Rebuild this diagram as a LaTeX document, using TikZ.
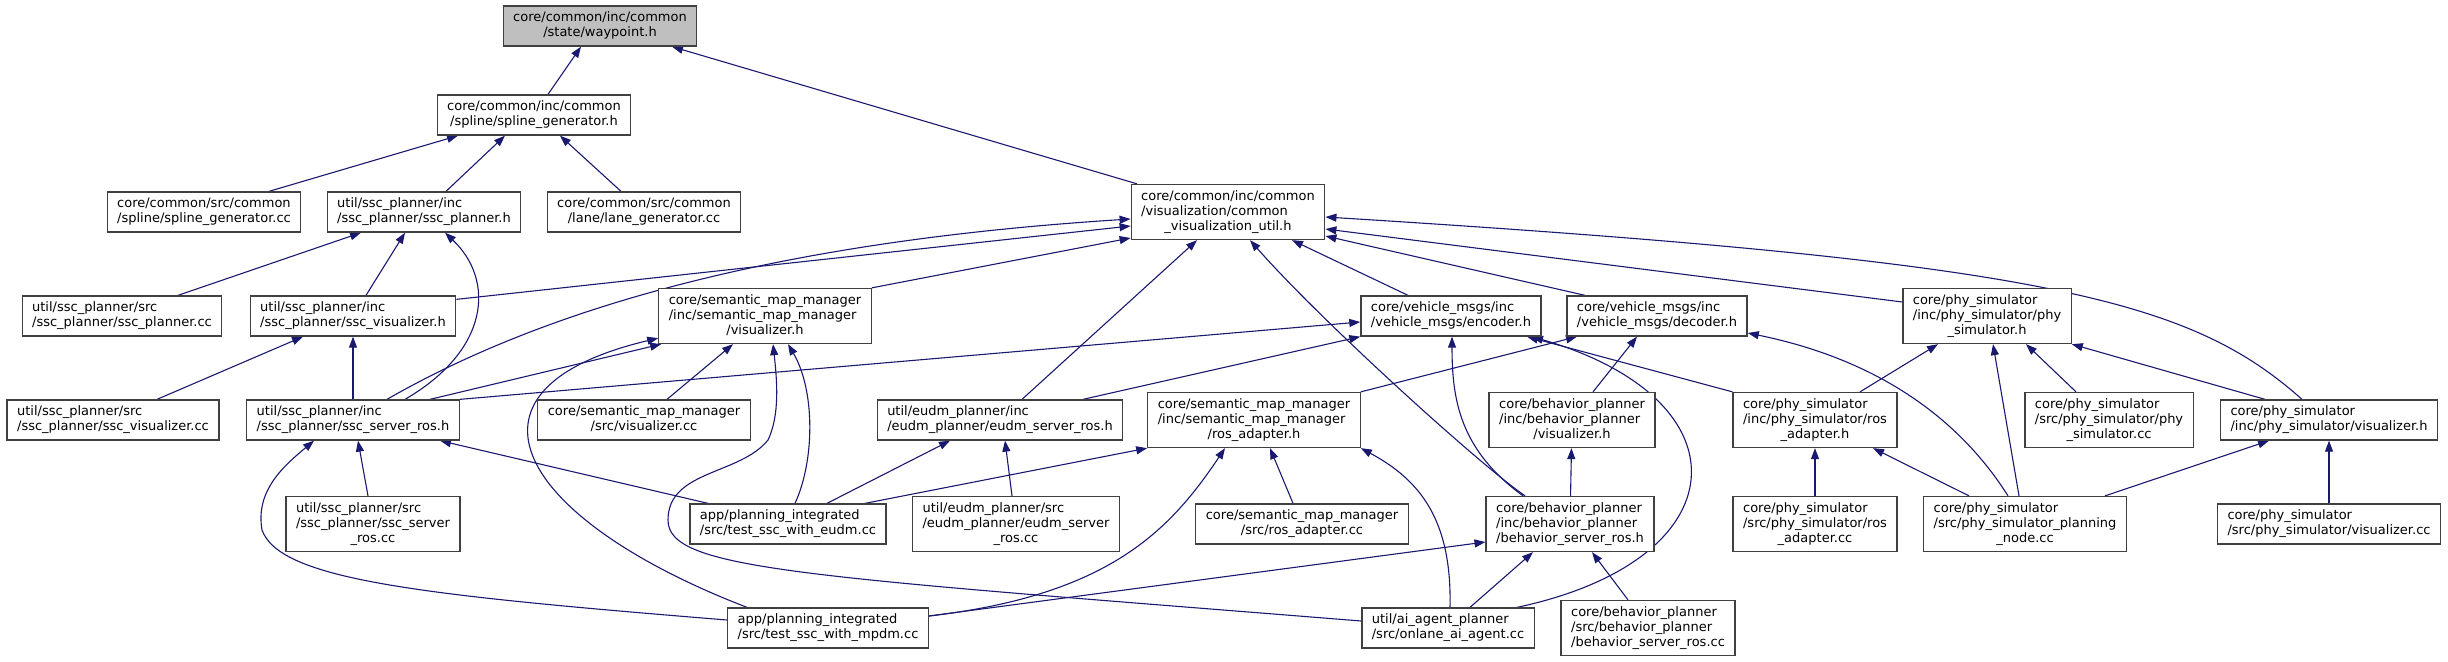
\documentclass[tikz,border=0pt]{standalone}
\usepackage{fontspec}
\setmainfont{DejaVu Sans}
\usepackage{xcolor}
\usepackage{tikz}
\usetikzlibrary{arrows.meta, backgrounds}
\definecolor{DoxyBlue}{RGB}{25, 25, 112}
\definecolor{DoxyGray}{HTML}{404040}
\definecolor{DoxyLightGray}{HTML}{BFBFBF}
% file label: all lines left, last line centred
\newcommand{\flab}[2]{\begin{tabular}{@{}l@{}}#1\\\multicolumn{1}{@{}c@{}}{#2}\end{tabular}}

\begin{document}
\begin{tikzpicture}[
    x=1pt, y=-1pt,
    font=\fontsize{13}{15}\selectfont,
    >={Triangle[length=11pt, width=8pt]},
    filebox/.style = {
        rectangle, draw=DoxyGray, line width=1.3pt, fill=white,
        inner xsep=10pt, inner ysep=5pt, minimum height=40pt
    },
    rootbox/.style = {filebox, fill=DoxyLightGray},
    arrow/.style = {->, line width=1.1pt, color=DoxyBlue}
]
\useasboundingbox (0,0) rectangle (2448,661);

% ===== ROW 0 / 1 =====
\node[rootbox] (waypoint) at (600,26) {\flab{core/common/inc/common}{/state/waypoint.h}};
\node[filebox] (splineh) at (534,115) {\flab{core/common/inc/common}{/spline/spline\_generator.h}};

% ===== ROW 2 =====
\node[filebox] (splinecc) at (204,212) {\flab{core/common/src/common}{/spline/spline\_generator.cc}};
\node[filebox] (sscplannerh) at (424,212) {\flab{util/ssc\_planner/inc}{/ssc\_planner/ssc\_planner.h}};
\node[filebox] (lanecc) at (644,212) {\flab{core/common/src/common}{/lane/lane\_generator.cc}};
\node[filebox] (commonvis) at (1228,212) {\flab{core/common/inc/common\\/visualization/common}{\_visualization\_util.h}};

% ===== ROW 3 =====
\node[filebox] (sscplannercc) at (122,316) {\flab{util/ssc\_planner/src}{/ssc\_planner/ssc\_planner.cc}};
\node[filebox] (sscvish) at (353,316) {\flab{util/ssc\_planner/inc}{/ssc\_planner/ssc\_visualizer.h}};
\node[filebox] (smmvish) at (765,316) {\flab{core/semantic\_map\_manager\\/inc/semantic\_map\_manager}{/visualizer.h}};
\node[filebox] (encoderh) at (1451,316) {\flab{core/vehicle\_msgs/inc}{/vehicle\_msgs/encoder.h}};
\node[filebox] (decoderh) at (1657,316) {\flab{core/vehicle\_msgs/inc}{/vehicle\_msgs/decoder.h}};
\node[filebox] (physimh) at (1987,316) {\flab{core/phy\_simulator\\/inc/phy\_simulator/phy}{\_simulator.h}};

% ===== ROW 4 =====
\node[filebox] (sscviscc) at (113,420) {\flab{util/ssc\_planner/src}{/ssc\_planner/ssc\_visualizer.cc}};
\node[filebox] (sscserverh) at (353,420) {\flab{util/ssc\_planner/inc}{/ssc\_planner/ssc\_server\_ros.h}};
\node[filebox] (smmviscc) at (644,420) {\flab{core/semantic\_map\_manager}{/src/visualizer.cc}};
\node[filebox] (eudmserverh) at (1000,420) {\flab{util/eudm\_planner/inc}{/eudm\_planner/eudm\_server\_ros.h}};
\node[filebox] (smmrosh) at (1254,420) {\flab{core/semantic\_map\_manager\\/inc/semantic\_map\_manager}{/ros\_adapter.h}};
\node[filebox] (bpvish) at (1572,420) {\flab{core/behavior\_planner\\/inc/behavior\_planner}{/visualizer.h}};
\node[filebox] (phyrosh) at (1815,420) {\flab{core/phy\_simulator\\/inc/phy\_simulator/ros}{\_adapter.h}};
\node[filebox] (physimcc) at (2109,420) {\flab{core/phy\_simulator\\/src/phy\_simulator/phy}{\_simulator.cc}};
\node[filebox] (phyvish) at (2329,420) {\flab{core/phy\_simulator}{/inc/phy\_simulator/visualizer.h}};

% ===== ROW 5 =====
\node[filebox] (sscservercc) at (373,524) {\flab{util/ssc\_planner/src\\/ssc\_planner/ssc\_server}{\_ros.cc}};
\node[filebox] (testeudm) at (788,524) {\flab{app/planning\_integrated}{/src/test\_ssc\_with\_eudm.cc}};
\node[filebox] (eudmservercc) at (1016,524) {\flab{util/eudm\_planner/src\\/eudm\_planner/eudm\_server}{\_ros.cc}};
\node[filebox] (smmroscc) at (1302,524) {\flab{core/semantic\_map\_manager}{/src/ros\_adapter.cc}};
\node[filebox] (bpserverh) at (1570,524) {\flab{core/behavior\_planner\\/inc/behavior\_planner}{/behavior\_server\_ros.h}};
\node[filebox] (phyroscc) at (1815,524) {\flab{core/phy\_simulator\\/src/phy\_simulator/ros}{\_adapter.cc}};
\node[filebox] (planningcc) at (2025,524) {\flab{core/phy\_simulator\\/src/phy\_simulator\_planning}{\_node.cc}};
\node[filebox] (phyviscc) at (2329,524) {\flab{core/phy\_simulator}{/src/phy\_simulator/visualizer.cc}};

% ===== ROW 6 =====
\node[filebox] (testmpdm) at (828,628) {\flab{app/planning\_integrated}{/src/test\_ssc\_with\_mpdm.cc}};
\node[filebox] (onlanecc) at (1448,628) {\flab{util/ai\_agent\_planner}{/src/onlane\_ai\_agent.cc}};
\node[filebox] (bpservercc) at (1648,628) {\flab{core/behavior\_planner\\/src/behavior\_planner}{/behavior\_server\_ros.cc}};

% ===== ARROWS =====
\begin{scope}[on background layer]
\draw[arrow] ([xshift=14pt]splineh.north) -- ([xshift=-19pt]waypoint.south);
\draw[arrow] ([xshift=-91pt]commonvis.north) -- ([xshift=72pt]waypoint.south);
\draw[arrow] ([xshift=65pt]splinecc.north) -- ([xshift=-76pt]splineh.south);
\draw[arrow] ([xshift=22pt]sscplannerh.north) -- ([xshift=-29pt]splineh.south);
\draw[arrow] ([xshift=-23pt]lanecc.north) -- ([xshift=26pt]splineh.south);
\draw[arrow] ([xshift=56pt]sscplannercc.north) -- ([xshift=-63pt]sscplannerh.south);
\draw[arrow] ([xshift=13pt]sscvish.north) -- ([xshift=-19pt]sscplannerh.south);
\draw[arrow] ([xshift=52pt]sscserverh.north) .. controls (490,350) and (495,280) .. ([xshift=21pt]sscplannerh.south);
\draw[arrow] ([xshift=44pt]sscviscc.north) -- ([xshift=-50pt]sscvish.south);
\draw[arrow] (sscserverh) -- (sscvish);
\draw[arrow] ([xshift=-5pt]sscservercc.north) -- ([xshift=5pt]sscserverh.south);

% into common_visualization_util.h
\draw[arrow] ([yshift=-4pt]sscvish.north east) -- ([yshift=-14pt]commonvis.west);
\draw[arrow] ([xshift=34pt]sscserverh.north) .. controls (560,300) and (800,240) .. ([yshift=-7pt]commonvis.west);
\draw[arrow] (smmvish.north east) -- ([yshift=-26pt]commonvis.west);
\draw[arrow] ([xshift=22pt]eudmserverh.north) -- ([xshift=-31pt]commonvis.south);
\draw[arrow] ([xshift=-45pt]bpserverh.north) .. controls (1480,465) and (1320,320) .. ([xshift=22pt]commonvis.south);
\draw[arrow] ([xshift=-43pt]encoderh.north) -- ([xshift=64pt]commonvis.south);
\draw[arrow] ([xshift=-72pt]decoderh.north) -- ([yshift=-24pt]commonvis.east);
\draw[arrow] ([yshift=14pt]physimh.west) -- ([yshift=-17pt]commonvis.east);
\draw[arrow] ([xshift=-27pt]phyvish.north) .. controls (2190,300) and (2050,262) .. ([yshift=-5pt]commonvis.east);

% into semantic_map_manager visualizer.h
\draw[arrow] ([xshift=77pt]sscserverh.north) -- ([xshift=3pt]smmvish.south west);
\draw[arrow] ([xshift=-81pt]testmpdm.north) .. controls (520,520) and (440,390) .. ([yshift=6pt]smmvish.south west);
\draw[arrow] ([xshift=23pt]smmviscc.north) -- ([xshift=-32pt]smmvish.south);
\draw[arrow] ([yshift=7pt]onlanecc.west) .. controls (800,576) and (668,570) .. (668,520)
    .. controls (668,470) and (740,475) .. (768,440) .. controls (780,415) and (777,380) .. ([xshift=8pt]smmvish.south);
\draw[arrow] ([xshift=7pt]testeudm.north) .. controls (815,460) and (815,390) .. ([xshift=23pt]smmvish.south);

% into ssc_server_ros.h
\draw[arrow] ([xshift=-80pt]testeudm.north) -- ([xshift=87pt]sscserverh.south);
\draw[arrow] ([yshift=8pt]testmpdm.west) .. controls (420,595) and (280,580) .. (262,530)
    .. controls (255,490) and (285,465) .. ([xshift=-39pt]sscserverh.south);

% into encoder.h / decoder.h
\draw[arrow] (sscserverh.north east) -- ([yshift=-6pt]encoderh.west);
\draw[arrow] ([xshift=83pt]eudmserverh.north) -- (encoderh.south west);
\draw[arrow] ([xshift=-47pt]bpserverh.north) .. controls (1460,450) and (1452,400) .. ([xshift=1pt]encoderh.south);
\draw[arrow] (phyrosh.north west) -- ([xshift=76pt]encoderh.south);
\draw[arrow] ([xshift=69pt]onlanecc.north) .. controls (1740,560) and (1750,400) .. ([xshift=81pt]encoderh.south);
\draw[arrow] (smmrosh.north east) -- ([xshift=-80pt]decoderh.south);
\draw[arrow] ([xshift=21pt]bpvish.north) -- ([xshift=-20pt]decoderh.south);
\draw[arrow] ([xshift=-17pt]planningcc.north) .. controls (1960,420) and (1880,360) .. ([yshift=-17pt]decoderh.east);

% into eudm_server_ros.h / ros_adapter.h
\draw[arrow] ([xshift=39pt]testeudm.north) -- ([xshift=-50pt]eudmserverh.south);
\draw[arrow] ([xshift=-4pt]eudmservercc.north) -- ([xshift=5pt]eudmserverh.south);
\draw[arrow] ([xshift=77pt]testeudm.north) -- (smmrosh.south west);
\draw[arrow] ([yshift=12pt]testmpdm.east) .. controls (1110,595) and (1170,530) .. ([xshift=-29pt]smmrosh.south);
\draw[arrow] ([xshift=-9pt]smmroscc.north) -- ([xshift=16pt]smmrosh.south);
\draw[arrow] ([xshift=2pt]onlanecc.north) .. controls (1452,520) and (1420,480) .. (smmrosh.south east);

% behavior_planner
\draw[arrow] (bpserverh) -- (bpvish);
\draw[arrow] ([yshift=12pt]testmpdm.east) -- ([yshift=-18pt]bpserverh.west);
\draw[arrow] ([xshift=22pt]onlanecc.north) -- ([xshift=-37pt]bpserverh.south);
\draw[arrow] ([xshift=-20pt]bpservercc.north) -- ([xshift=22pt]bpserverh.south);

% phy_simulator
\draw[arrow] ([xshift=45pt]phyrosh.north) -- ([xshift=-49pt]physimh.south);
\draw[arrow] ([xshift=-6pt]planningcc.north) -- ([xshift=6pt]physimh.south);
\draw[arrow] ([xshift=-33pt]physimcc.north) -- ([xshift=39pt]physimh.south);
\draw[arrow] ([xshift=-64pt]phyvish.north) -- (physimh.south east);
\draw[arrow] (phyroscc) -- (phyrosh);
\draw[arrow] ([xshift=-56pt]planningcc.north) -- ([xshift=58pt]phyrosh.south);
\draw[arrow] ([xshift=80pt]planningcc.north) -- ([xshift=-60pt]phyvish.south);
\draw[arrow] (phyviscc) -- (phyvish);
\end{scope}
\end{tikzpicture}
\end{document}
